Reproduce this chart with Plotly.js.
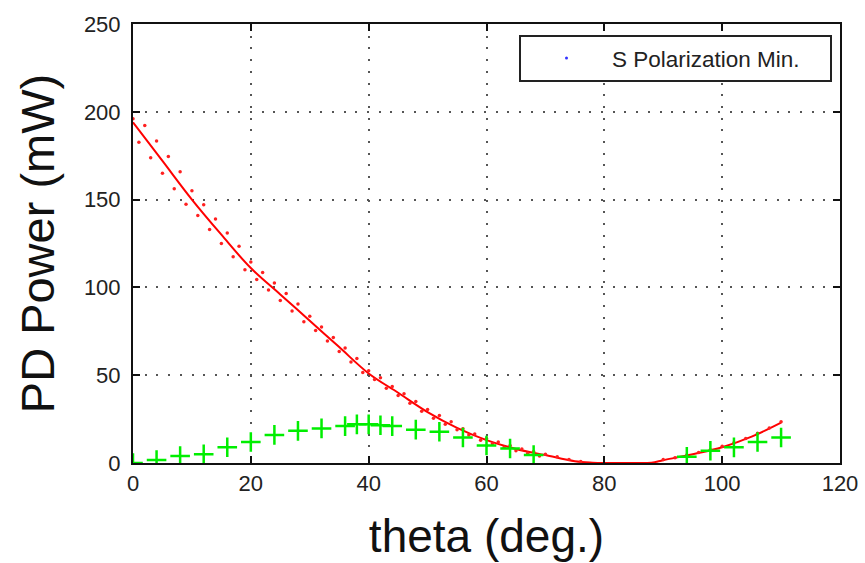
<!DOCTYPE html>
<html>
<head>
<meta charset="utf-8">
<script src="https://cdn.plot.ly/plotly-3.0.1.min.js"></script>
<style>html,body{margin:0;padding:0;background:#fff;}#chart{width:865px;height:563px;}</style>
</head>
<body>
<div id="chart"></div>
<script>
// Fit line (red solid)
var fitTheta = [0,5,10,15,20,25,30,35,40,45,50,55,60,65,70,75,78,80,85,88,90,95,100,105,110];
var fitPower = [194,172,150,130,111,96,81,66,51,40,29,20,13,8,4.5,1,0.2,0,0,0.2,1.6,5,9,15,23];

// Measured S polarization (red dots)
var dotTheta = [0,1,2,3,4,5,6,7,8,9,10,11,12,13,14,15,16,17,18,19,20,21,22,23,24,25,26,27,28,29,30,31,32,33,34,35,36,37,38,39,40,41,42,43,44,45,46,47,48,49,50,51,52,53,54,55,56,57,58,59,60,61,62,63,64,65,66,67,68,69,70,72,74,76,90,92,94,96,98,100,102,104,106,108,110];
var dotPower = [196,182.6,192.2,173.8,183.4,165,174.6,156.2,165.8,147.4,155,141,147,133,139,125,131,117.5,123.5,110,114.5,104.5,108.5,98.5,102.5,92.5,96.5,86.5,90.5,80.5,83.5,75.5,77.5,69.5,71.5,63.5,65.5,57.5,59.5,51.5,52.5,47.5,48.5,42.5,43.5,38.5,39.5,34,35,29.5,30.5,25.5,27,22,23.5,19,19.5,16,16.5,13,14,11,12,9,10,7,8,5.5,6.5,4,5,3.5,2,0.8,2,3,4.5,6,7.5,9.5,11.5,14,17,20,23.5];

// Green "+" series
var plusTheta = [0,4,8,12,16,20,24,28,32,36,38,40,42,44,48,52,56,60,64,68,94,98,102,106,110];
var plusPower = [0,1.7,4,5,9,12,16,18.3,19.7,21,22,22,21.5,21,19,17.8,14.5,10,8.3,4.5,3.6,7,8.9,12,14.5];

var legendName = 'S Polarization Min.';
var xTicks = [0,20,40,60,80,100,120];
var yTicks = [0,50,100,150,200,250];

var traces = [
  {x: fitTheta, y: fitPower, mode: 'lines', line: {color: '#ff0000', width: 2, shape: 'spline'}, showlegend: false, hoverinfo: 'skip'},
  {x: dotTheta, y: dotPower, mode: 'markers', marker: {color: '#ff2020', size: 3.5}, showlegend: false},
  {x: plusTheta, y: plusPower, mode: 'markers', marker: {symbol: 'cross-thin-open', color: '#00ee00', size: 14, line: {color: '#00ee00', width: 2.5}}, showlegend: false},
  {x: [null], y: [null], mode: 'markers', name: legendName + '\u00A0\u00A0\u00A0\u00A0', marker: {color: '#3333ff', size: 3}, showlegend: true}
];

var axisCommon = {
  showline: true, linecolor: '#111', linewidth: 2, mirror: 'ticks',
  ticks: 'inside', ticklen: 7, tickwidth: 2, tickcolor: '#111',
  showgrid: true, gridcolor: '#555', gridwidth: 2, griddash: '2px,9.7px',
  zeroline: false, fixedrange: true,
  tickfont: {family: 'Liberation Sans, Arial, sans-serif', size: 22, color: '#222'}
};

var layout = {
  width: 865, height: 563,
  margin: {l: 133, r: 25, t: 24, b: 100},
  paper_bgcolor: '#fff', plot_bgcolor: '#fff',
  xaxis: Object.assign({}, axisCommon, {
    range: [0,120], tickvals: xTicks, ticktext: xTicks.map(String),
    title: {text: 'theta (deg.)', font: {family: 'Liberation Sans, Arial, sans-serif', size: 46, color: '#111'}, standoff: 24}
  }),
  yaxis: Object.assign({}, axisCommon, {
    range: [0,250], tickvals: yTicks, ticktext: yTicks.map(String), ticklabelstandoff: 6,
    title: {text: 'PD Power (mW)', font: {family: 'Liberation Sans, Arial, sans-serif', size: 47, color: '#111'}, standoff: 14}
  }),
  legend: {
    x: 0.9887, xanchor: 'right', y: 0.9750, yanchor: 'top',
    bgcolor: '#fff', bordercolor: '#222', borderwidth: 2,
    itemwidth: 81,
    font: {family: 'Liberation Sans, Arial, sans-serif', size: 22.5, color: '#222'}
  },
  showlegend: true
};

Plotly.newPlot('chart', traces, layout, {staticPlot: true, displayModeBar: false});
</script>
</body>
</html>
